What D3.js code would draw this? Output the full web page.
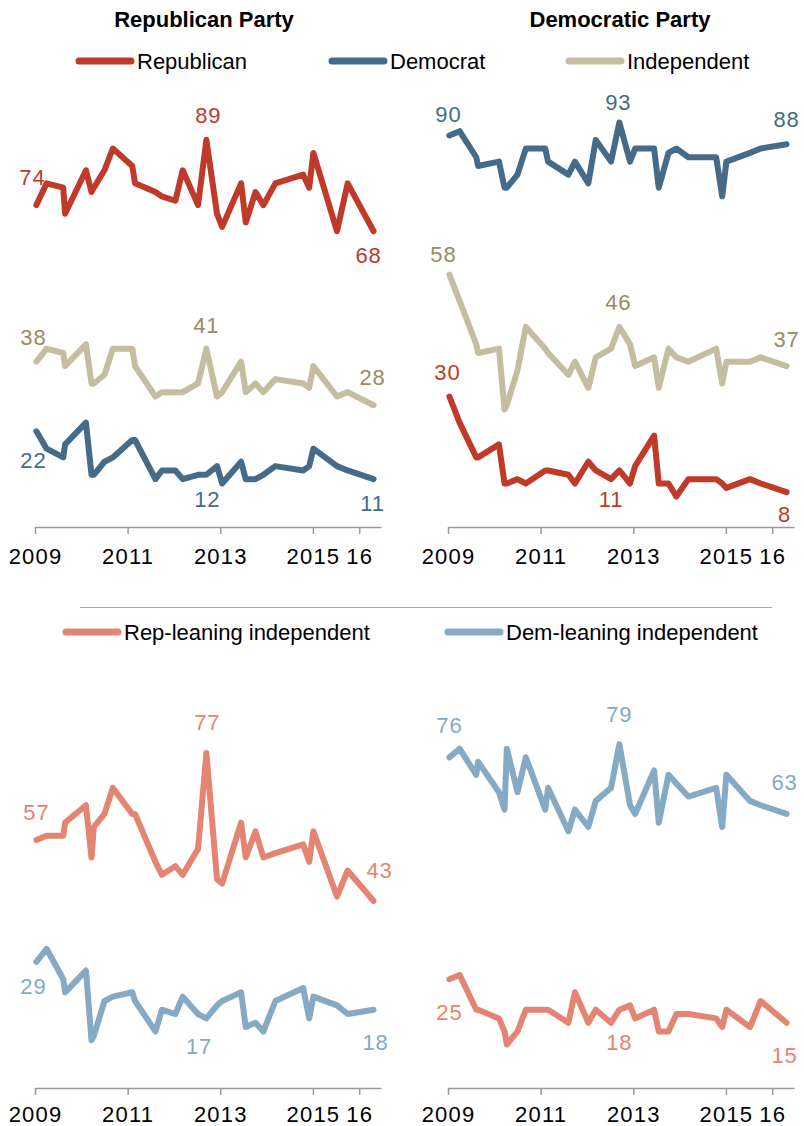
<!DOCTYPE html>
<html>
<head>
<meta charset="utf-8">
<script src="https://cdn.jsdelivr.net/npm/d3@7"></script>
<style>
  body { margin: 0; background: #fff; }
  svg text { font-family: "Liberation Sans", Arial, sans-serif; }
</style>
</head>
<body>
<div id="container"></div>
<script>
/* survey dates, as decimal years */
const surveyDates = [2009.03, 2009.25, 2009.61, 2009.65, 2010.1, 2010.22, 2010.27, 2010.5, 2010.68,
  2011.1, 2011.16, 2011.6, 2011.74, 2012.03, 2012.19, 2012.52, 2012.7, 2012.93, 2013.04,
  2013.45, 2013.55, 2013.76, 2013.93, 2014.19, 2014.79, 2014.92, 2015.01, 2015.52, 2015.75, 2016.31]

// Republican Party favorable, by group
const gopByRep = [74, 79, 78, 72, 82, 77, 78, 82, 87, 83, 79, 77, 76, 75, 82, 74, 89, 72, 69, 79, 70, 77, 74, 79, 81, 78, 86, 68, 79, 68]
const gopByInd = [38, 41, 40, 37, 42, 33, 33, 35, 41, 41, 37, 30, 31, 31, 31, 33, 41, 30, 31, 38, 31, 33, 31, 34, 33, 32, 37, 30, 31, 28]
const gopByDem = [22, 18, 16, 19, 24, 12, 12, 15, 16, 20, 20, 11, 13, 13, 11, 12, 12, 14, 10, 15, 11, 11, 12, 14, 13, 14, 18, 14, 13, 11]

// Democratic Party favorable, by group
const demByDem = [90, 91, 85, 83, 84, 78, 78, 81, 87, 87, 84, 81, 84, 79, 89, 84, 93, 84, 87, 87, 78, 86, 87, 85, 85, 76, 84, 86, 87, 88]
const demByInd = [58, 52, 42, 40, 41, 27, 28, 36, 46, 41, 40, 35, 38, 32, 39, 41, 46, 42, 37, 39, 32, 41, 39, 38, 41, 33, 38, 38, 39, 37]
const demByRep = [30, 24, 16, 16, 19, 10, 10, 11, 10, 13, 13, 12, 10, 15, 13, 11, 13, 10, 14, 21, 10, 10, 7, 11, 11, 10, 9, 11, 10, 8]

// leaners
const gopByRepLean = [57, 58, 58, 61, 65, 53, 60, 63, 69, 63, 63, 52, 49, 51, 49, 55, 77, 48, 47, 61, 53, 59, 53, 54, 56, 52, 59, 44, 50, 43]
const gopByDemLean = [29, 32, 25, 22, 27, 11, 12, 20, 21, 22, 20, 13, 18, 17, 21, 17, 16, 19, 20, 22, 14, 15, 13, 20, 23, 16, 21, 19, 17, 18]
const demByDemLean = [76, 78, 72, 75, 68, 64, 78, 68, 76, 64, 69, 59, 64, 60, 66, 69, 79, 65, 63, 73, 61, 72, 70, 67, 69, 60, 72, 66, 65, 63]
const demByRepLean = [25, 26, 18, 18, 16, 13, 10, 13, 18, 18, 18, 15, 22, 15, 18, 15, 18, 19, 16, 18, 13, 13, 17, 17, 16, 14, 18, 14, 20, 15]

const xTicks = [2009, 2011, 2013, 2015, 2016]
const panelTitles = ["Republican Party", "Democratic Party"]
const legendTop = ["Republican", "Democrat", "Independent"]
const legendBottom = ["Rep-leaning independent", "Dem-leaning independent"]

/* cores */
const cRep = "#bf3a2b", cDem = "#456b89", cInd = "#c5bd9f", cIndText = "#978c62"
const cRepLean = "#e48573", cDemLean = "#86a9c4"

const W = 804, H = 1126

const svg = d3.select("#container").append("svg")
  .attr("width", W).attr("height", H)

const xLeft = d3.scaleLinear().domain([2009, 2016.47]).range([35, 381])
const xRight = d3.scaleLinear().domain([2009, 2016.47]).range([448, 794])
const yTop = d3.scaleLinear().domain([0, 100]).range([527, 92])
const yBottom = d3.scaleLinear().domain([0, 100]).range([1088, 653])

// labels: [index, dx, dy]
const panels = [
  { x: xLeft, y: yTop, pad: 14, series: [
    { values: gopByInd, color: cInd, text: cIndText, labels: [[0, -3, -17], [16, 0, -16], [29, -1, -20]] },
    { values: gopByDem, color: cDem, text: cDem, labels: [[0, -3, 37], [16, 1, 32], [29, -1, 32]] },
    { values: gopByRep, color: cRep, text: cRep, labels: [[0, -4, -20], [16, 2, -17], [29, -5, 32]] }
  ]},
  { x: xRight, y: yTop, pad: 14, series: [
    { values: demByInd, color: cInd, text: cIndText, labels: [[0, -6, -13], [16, -1, -17], [29, 0, -19]] },
    { values: demByRep, color: cRep, text: cRep, labels: [[0, -2, -17], [15, 0, 28], [29, -2, 30]] },
    { values: demByDem, color: cDem, text: cDem, labels: [[0, -1, -14], [16, -1, -12], [29, 0, -17]] }
  ]},
  { x: xLeft, y: yBottom, pad: 11, series: [
    { values: gopByDemLean, color: cDemLean, text: cDemLean, labels: [[0, -3, 32], [15, 1, 40], [29, 2, 40]] },
    { values: gopByRepLean, color: cRepLean, text: cRepLean, labels: [[0, 0, -20], [16, 1, -23], [29, 6, -23]] }
  ]},
  { x: xRight, y: yBottom, pad: 11, series: [
    { values: demByRepLean, color: cRepLean, text: cRepLean, labels: [[0, 0, 41], [16, 0, 40], [29, -2, 40]] },
    { values: demByDemLean, color: cDemLean, text: cDemLean, labels: [[0, 0, -24], [16, 0, -22], [29, -2, -24]] }
  ]}
]

const drawPanel = (p) => {
  const g = svg.append("g")
  const axis = d3.axisBottom(p.x)
    .tickValues(xTicks)
    .tickFormat(d => d === 2016 ? "16" : d)
    .tickSize(7).tickSizeOuter(0).tickPadding(p.pad)
  const ax = g.append("g")
    .attr("transform", `translate(0,${p.y(0)})`)
    .call(axis)
  ax.select(".domain").attr("stroke", "#9a9a9a").attr("stroke-width", 1.5)
  ax.selectAll(".tick line").attr("stroke", "#9a9a9a").attr("stroke-width", 1.5)
  ax.selectAll(".tick text").attr("font-size", 22).attr("fill", "#000")
    .attr("letter-spacing", 1.2)
    .attr("font-family", "Liberation Sans, Arial, sans-serif")

  const line = d3.line()
    .x((d, i) => p.x(surveyDates[i]))
    .y(d => p.y(d))

  p.series.forEach(s => {
    g.append("path")
      .datum(s.values)
      .attr("d", line)
      .attr("fill", "none")
      .attr("stroke", s.color)
      .attr("stroke-width", 6)
      .attr("stroke-linejoin", "round")
      .attr("stroke-linecap", "round")
  })
  p.series.forEach(s => {
    g.selectAll(null)
      .data(s.labels)
      .join("text")
      .attr("x", d => p.x(surveyDates[d[0]]) + d[1])
      .attr("y", d => p.y(s.values[d[0]]) + d[2])
      .attr("text-anchor", "middle")
      .attr("font-size", 22)
      .attr("letter-spacing", 0.8)
      .attr("fill", s.text)
      .text(d => s.values[d[0]])
  })
}

panels.forEach(drawPanel)

// titles
svg.selectAll(".titulo")
  .data(panelTitles)
  .join("text")
  .attr("class", "titulo")
  .attr("x", (d, i) => i === 0 ? 204 : 620)
  .attr("y", 27)
  .attr("text-anchor", "middle")
  .attr("font-weight", "bold")
  .attr("font-size", 22)
  .attr("fill", "#000")
  .text(d => d)

// legends
const drawLegend = (items, colors, xs, y) => {
  const lg = svg.append("g")
  items.forEach((t, i) => {
    lg.append("line")
      .attr("x1", xs[i] + 3).attr("x2", xs[i] + 55)
      .attr("y1", y).attr("y2", y)
      .attr("stroke", colors[i]).attr("stroke-width", 7)
      .attr("stroke-linecap", "round")
    lg.append("text")
      .attr("x", xs[i] + 61).attr("y", y + 7.5)
      .attr("font-size", 22).attr("fill", "#000")
      .text(t)
  })
}
drawLegend(legendTop, [cRep, cDem, cInd], [76, 329, 566], 61)

svg.append("line")
  .attr("x1", 80).attr("x2", 772)
  .attr("y1", 607.5).attr("y2", 607.5)
  .attr("stroke", "#9aaab7").attr("stroke-width", 1)

drawLegend(legendBottom, [cRepLean, cDemLean], [63, 445], 632)
</script>
</body>
</html>
